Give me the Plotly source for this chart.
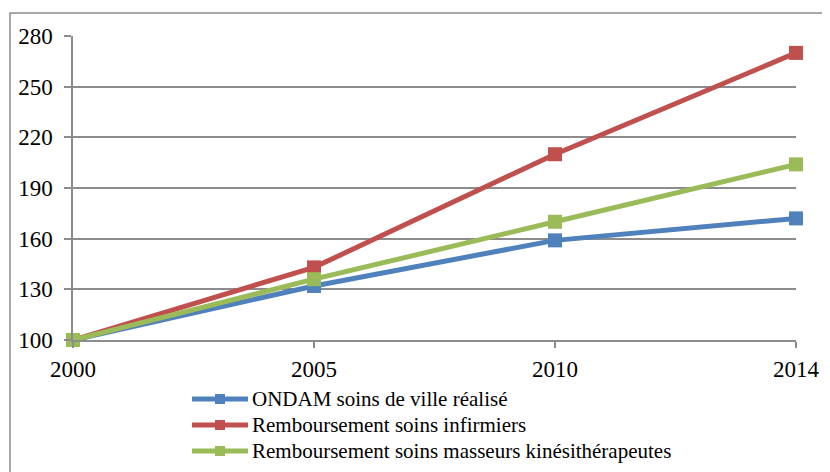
import plotly.graph_objects as go

years = ["2000", "2005", "2010", "2014"]
ondam = [100, 132, 159, 172]
infirmiers = [100, 143, 210, 270]
kine = [100, 136, 170, 204]

names = ["ONDAM soins de ville réalisé",
         "Remboursement soins infirmiers",
         "Remboursement soins masseurs kinésithérapeutes"]
colors = ["#4F81BD", "#C0504D", "#9BBB59"]
series = [ondam, infirmiers, kine]

FONT = "Liberation Serif"
grid = "#8C8C8C"
# page is offset by the 8px body margin: figure coords = screen - 8
L, R, T, B = 65, 42, 28, 140
W, H = 830, 472
pw, ph = W - L - R, H - T - B


def px(x):
    return (x - L) / pw


def py(y):
    return (T + ph - y) / ph


fig = go.Figure()
for name, col, vals in zip(names, colors, series):
    fig.add_trace(go.Scatter(
        x=years, y=vals, name=name, mode="lines+markers",
        line=dict(color=col, width=5),
        marker=dict(symbol="square", size=14, color=col),
        cliponaxis=False, showlegend=False,
    ))

fig.update_layout(
    width=W, height=H,
    margin=dict(l=L, r=R, t=T, b=B, autoexpand=False),
    paper_bgcolor="white", plot_bgcolor="white",
    font=dict(family=FONT, size=22, color="black"),
    xaxis=dict(type="category", range=[0, 3], showgrid=False,
               showline=True, linecolor=grid, linewidth=1.5,
               ticks="outside", ticklen=6, tickcolor=grid, tickwidth=1.5,
               tickfont=dict(family=FONT, size=23), ticklabelstandoff=2),
    yaxis=dict(range=[100, 280], tickvals=[100, 130, 160, 190, 220, 250, 280],
               showgrid=True, gridcolor=grid, gridwidth=1.5,
               showline=True, linecolor=grid, linewidth=1.5,
               ticks="outside", ticklen=7, tickcolor=grid, tickwidth=1.5,
               tickfont=dict(family=FONT, size=23), zeroline=False,
               ticklabelstandoff=7),
    showlegend=False,
)

# outer chart border
fig.add_shape(type="rect", xref="paper", yref="paper",
              x0=px(2), x1=px(W + 20), y0=py(H + 20), y1=py(5),
              line=dict(color=grid, width=1.5), layer="below")

# legend (drawn manually to match the long Excel legend keys)
leg_x0, leg_x1, leg_text = 184, 240, 242
leg_y0, leg_dy = 391, 26
for i, (name, col) in enumerate(zip(names, colors)):
    yy = leg_y0 + i * leg_dy
    fig.add_shape(type="line", xref="paper", yref="paper",
                  x0=px(leg_x0), x1=px(leg_x1), y0=py(yy), y1=py(yy),
                  line=dict(color=col, width=5))
    cx = (leg_x0 + leg_x1) / 2
    fig.add_shape(type="rect", xref="paper", yref="paper",
                  x0=px(cx - 5), x1=px(cx + 5), y0=py(yy - 5), y1=py(yy + 5),
                  line=dict(width=0), fillcolor=col)
    fig.add_annotation(xref="paper", yref="paper", x=px(leg_text), y=py(yy),
                       text=name, showarrow=False, xanchor="left",
                       yanchor="middle", font=dict(family=FONT, size=21))

fig.write_html("out.html")
